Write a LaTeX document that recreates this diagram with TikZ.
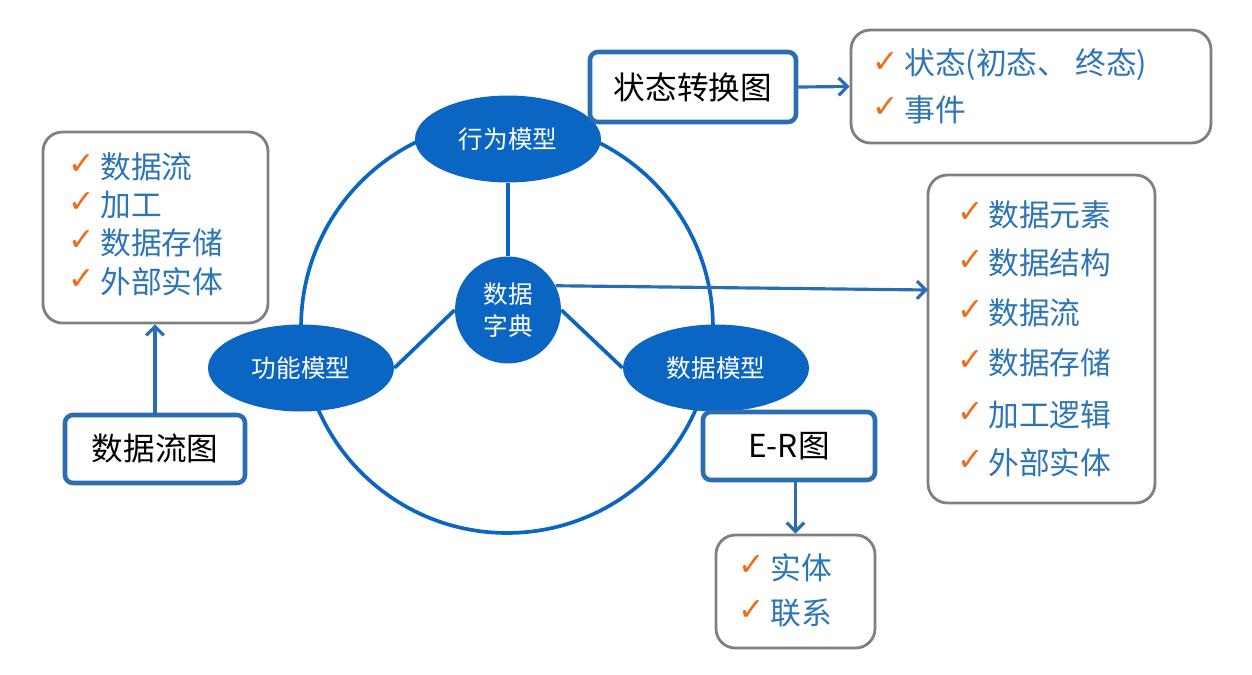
\documentclass[tikz,border=0pt]{standalone}
\usepackage{fontspec}
\setmainfont{Noto Sans CJK SC}
\newfontfamily\dejavu{DejaVu Sans}
\usetikzlibrary{arrows.meta,shapes.geometric}
\definecolor{ellblue}{HTML}{0A66C2}
\definecolor{boxblue}{HTML}{2A6DB0}
\definecolor{txtblue}{HTML}{2E75B6}
\definecolor{chkorange}{HTML}{F26B1D}
\definecolor{boxgray}{HTML}{808080}
\begin{document}
\begin{tikzpicture}[x=0.02cm,y=-0.02cm,
  model/.style={ellipse, fill=ellblue, text=white, inner sep=0pt, minimum width=3.72cm, minimum height=1.74cm, font=\fontsize{14}{18}\selectfont},
  titlebox/.style={draw=boxblue, line width=2.6pt, rounded corners=4.5pt, fill=white, inner sep=0pt, font=\fontsize{18}{22}\selectfont},
  listbox/.style={draw=boxgray, line width=1.6pt, rounded corners=11pt, fill=white, inner sep=0pt},
  item/.style={anchor=west, inner sep=0pt, text=txtblue, font=\fontsize{17.5}{21}\selectfont},
  chk/.style={anchor=west, inner sep=0pt, text=chkorange, font=\dejavu\bfseries\fontsize{18}{20}\selectfont},
  conn/.style={draw=ellblue, line width=2.1pt},
  arr/.style={draw=boxblue, line width=1.8pt, -{Straight Barb[length=5pt,width=10pt]}}
]
\useasboundingbox (0,0) rectangle (1252,674);
\fill[white] (0,0) rectangle (1252,674);

% big circle
\draw[conn] (507,327) circle [radius=4.12cm];

% models
\node[model] (beh) at (508,139) {行为模型};
\node[model] (fun) at (301,368) {功能模型};
\node[model] (dat) at (716,368) {数据模型};
\node[model, minimum width=2.12cm, minimum height=2.14cm, align=center] (dict) at (508,310) {数据\\字典};

\draw[conn] (beh.south) -- (dict.north);
\draw[conn] (dict.west) -- (fun.east);
\draw[conn] (dict.east) -- (dat.west);

% title boxes
\node[titlebox, minimum width=4.12cm, minimum height=1.4cm] (stbox) at (693,87) {状态转换图};
\node[titlebox, minimum width=3.6cm, minimum height=1.36cm] (dfd) at (155,449) {数据流图};
\node[titlebox, minimum width=3.44cm, minimum height=1.36cm] (erbox) at (789,446) {E-R图};

% list boxes
\node[listbox, minimum width=7.2cm, minimum height=2.26cm] (trbox) at (1031,86.5) {};
\node[listbox, minimum width=4.5cm, minimum height=3.82cm] (lbox) at (155.5,227.5) {};
\node[listbox, minimum width=4.54cm, minimum height=6.56cm] (rbox) at (1041.5,339) {};
\node[listbox, minimum width=3.18cm, minimum height=2.26cm] (bbox) at (795.5,591.5) {};

% items
\node[chk] (tc1) at (872,63) {✓};
\node[item] (tt1) at (904,65) {状态(初态、 终态)};
\node[chk] (tc2) at (872,108) {✓};
\node[item] (tt2) at (904,110) {事件};

\foreach \y/\t [count=\i] in {167/数据流,205/加工,243/数据存储,282/外部实体}{
  \node[chk] (lc\i) at (68,\y-2) {✓};
  \node[item] (lt\i) at (100,\y) {\t};
}
\foreach \y/\t [count=\i] in {215/数据元素,263/数据结构,313/数据流,363/数据存储,415/加工逻辑,463/外部实体}{
  \node[chk] (rc\i) at (957,\y-2) {✓};
  \node[item] (rt\i) at (988,\y) {\t};
}
\foreach \y/\t [count=\i] in {568/实体,613/联系}{
  \node[chk] (bc\i) at (738,\y-2) {✓};
  \node[item] (bt\i) at (770,\y) {\t};
}

% arrows
\coordinate (rin) at (928,290);
\draw[arr] (dict.27) -- (rin);
\draw[arr] (stbox.east) -- (trbox.west);
\draw[arr] (dfd.north) -- (dfd.north |- lbox.south);
\draw[arr] (bbox.north |- erbox.south) -- (bbox.north);
\end{tikzpicture}
\end{document}
